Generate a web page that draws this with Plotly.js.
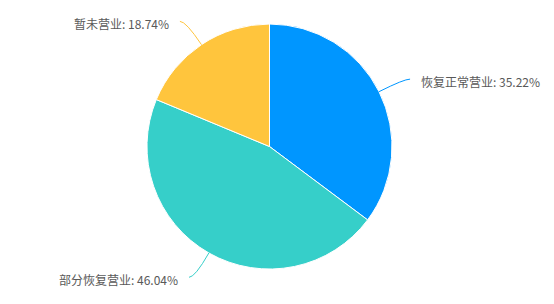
<!DOCTYPE html>
<html>
<head>
<meta charset="utf-8">
<script src="https://cdn.plot.ly/plotly-3.0.1.min.js"></script>
<style>html,body{margin:0;padding:0;background:#fff;}#chart{width:554px;height:304px;}</style>
</head>
<body>
<div id="chart"></div>
<script>
const categories = ["恢复正常营业", "部分恢复营业", "暂未营业"];
const values = [35.22, 46.04, 18.74];
const colors = ["#0096FF", "#36CFC9", "#FFC53D"];

const W = 554, H = 304;
const domainX = [0.2653, 0.7076];
const domainY = [0.115, 0.921];

const trace = {
  type: "pie",
  labels: categories,
  values: values,
  sort: false,
  direction: "clockwise",
  rotation: 0,
  marker: {colors: colors, line: {color: "#ffffff", width: 1}},
  textinfo: "none",
  hoverinfo: "label+value",
  automargin: false,
  domain: {x: domainX, y: domainY},
  showlegend: false
};

// Label + leader line placement derived from the data (slice mid-angles)
const cx = (domainX[0] + domainX[1]) / 2 * W;
const cy = (1 - (domainY[0] + domainY[1]) / 2) * H;
const R = Math.min((domainX[1] - domainX[0]) * W, (domainY[1] - domainY[0]) * H) / 2;
const total = values.reduce((a, b) => a + b, 0);
const len1 = 28, len2 = 6, gap = 9;
const px = x => x / W, py = y => 1 - y / H;

const annotations = [], shapes = [];
let cum = 0;
values.forEach((v, i) => {
  const mid = (cum + v / 2) / total * 2 * Math.PI;
  cum += v;
  const dx = Math.sin(mid), dy = -Math.cos(mid);
  const p1 = [cx + R * dx, cy + R * dy];
  const p2 = [cx + (R + len1) * dx, cy + (R + len1) * dy];
  const side = dx >= 0 ? 1 : -1;
  const p3 = [p2[0] + side * len2, p2[1]];
  shapes.push({
    type: "path", xref: "paper", yref: "paper",
    path: `M ${px(p1[0])},${py(p1[1])} Q ${px(p2[0])},${py(p2[1])} ${px(p3[0])},${py(p3[1])}`,
    line: {color: colors[i], width: 1}
  });
  annotations.push({
    xref: "paper", yref: "paper",
    x: px(p3[0] + side * gap), y: py(p3[1] + 2),
    xanchor: side > 0 ? "left" : "right", yanchor: "middle",
    text: `${categories[i]}: ${v.toFixed(2)}%`,
    showarrow: false,
    font: {family: "Noto Sans CJK SC, sans-serif", size: 12, color: "#595959"}
  });
});

Plotly.newPlot("chart", [trace], {
  width: W, height: H,
  margin: {l: 0, r: 0, t: 0, b: 0},
  paper_bgcolor: "#ffffff",
  showlegend: false,
  annotations: annotations,
  shapes: shapes
}, {displayModeBar: false, staticPlot: true});
</script>
</body>
</html>
